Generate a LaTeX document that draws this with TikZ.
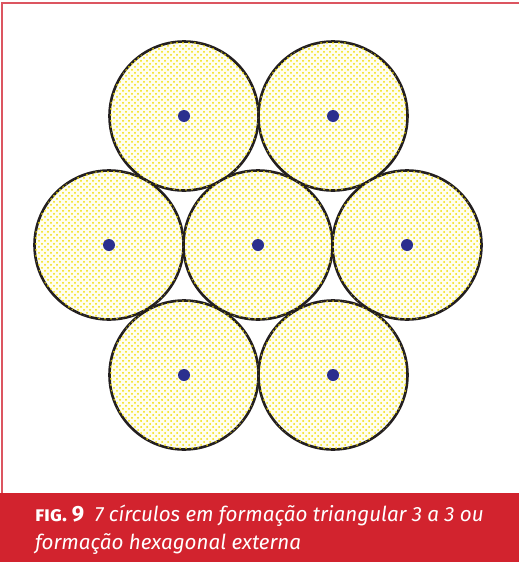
\documentclass[tikz,border=0pt]{standalone}
\usepackage{fontspec}
\setmainfont{Fira Sans}
\usetikzlibrary{patterns}
\definecolor{capred}{HTML}{D2232E}
\definecolor{framered}{HTML}{DC5560}
\definecolor{dotblue}{HTML}{2B2F8E}
\definecolor{ringblack}{HTML}{231F20}
\definecolor{hatchyellow}{HTML}{F2DC00}
\begin{document}
\begin{tikzpicture}[
    x=0.5pt, y=-0.5pt,
    disc/.style={circle, draw=ringblack, line width=1.3pt, inner sep=0pt, minimum size=74.5pt,
                 fill=yellow!6, postaction={pattern=crosshatch dots, pattern color=hatchyellow}},
    dot/.style={circle, fill=dotblue, inner sep=0pt, minimum size=6pt},
    caption/.style={text=white, anchor=north west, align=left,
                    font=\fontsize{10.3}{14}\selectfont\itshape}
]
\useasboundingbox (0,0) rectangle (519,562);
% Frame
\draw[framered, line width=1pt] (1.5,493) -- (1.5,3) -- (519,3);
% Top row
\node[disc] (c1) at (184,116) {};
\node[disc] (c2) at (333,116) {};
% Middle row
\node[disc] (c3) at (109,245) {};
\node[disc] (c4) at (258,245) {};
\node[disc] (c5) at (407,245) {};
% Bottom row
\node[disc] (c6) at (184,375) {};
\node[disc] (c7) at (333,375) {};
% Centres
\node[dot] (d1) at (c1) {};
\node[dot] (d2) at (c2) {};
\node[dot] (d3) at (c3) {};
\node[dot] (d4) at (c4) {};
\node[dot] (d5) at (c5) {};
\node[dot] (d6) at (c6) {};
\node[dot] (d7) at (c7) {};
% Caption bar
\fill[capred] (0,493) rectangle (519,562);
\node[caption] (cap) at (28,498) {{\upshape\bfseries\textsc{fig.}\ \fontsize{11}{14}\selectfont 9}\enspace 7 círculos em formação triangular 3 a 3 ou\\formação hexagonal externa};
\end{tikzpicture}
\end{document}
